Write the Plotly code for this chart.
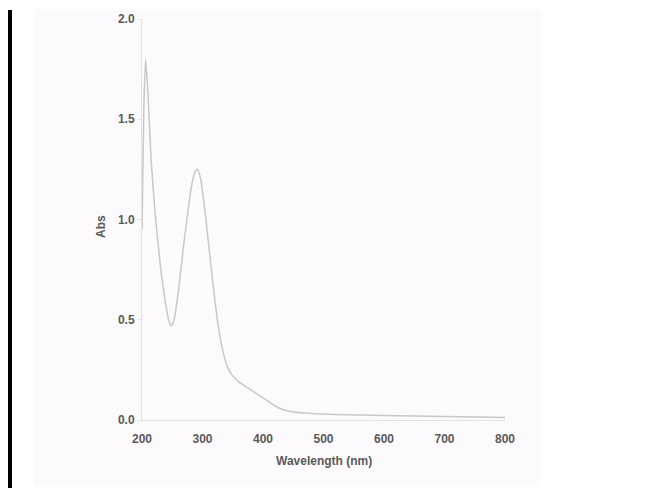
import plotly.graph_objects as go

wavelength = [200, 203, 206, 210, 215, 222, 230, 238, 244, 248, 253, 260, 268, 275, 282, 288, 292,
              297, 303, 310, 318, 326, 334, 342, 350, 360, 375, 390, 405, 420, 435, 450, 480, 520,
              560, 600, 650, 700, 750, 800]
absorbance = [0.95, 1.55, 1.80, 1.62, 1.30, 1.02, 0.78, 0.60, 0.50, 0.47, 0.50, 0.64, 0.85, 1.02,
              1.17, 1.24, 1.25, 1.20, 1.07, 0.88, 0.66, 0.47, 0.34, 0.26, 0.22, 0.19, 0.16, 0.13,
              0.10, 0.07, 0.05, 0.04, 0.033, 0.028, 0.025, 0.022, 0.020, 0.018, 0.015, 0.012]
x_ticks = [200, 300, 400, 500, 600, 700, 800]
y_ticks = [0.0, 0.5, 1.0, 1.5, 2.0]
y_tick_labels = ["0.0", "0.5", "1.0", "1.5", "2.0"]

FAM = "Liberation Sans, Arial, sans-serif"
tickfont = dict(family=FAM, size=12, color="#5a5a5a", weight="bold")

fig = go.Figure()
fig.add_trace(go.Scatter(x=wavelength, y=absorbance, mode="lines",
                         line=dict(color="#c8c8c8", width=1.5, shape="spline", smoothing=0.6),
                         hoverinfo="skip", showlegend=False))

fig.update_layout(
    width=650, height=488,
    margin=dict(l=142, r=145, t=19, b=68),
    paper_bgcolor="#ffffff", plot_bgcolor="rgba(0,0,0,0)",
    font=dict(family=FAM, size=12, color="#5a5a5a"),
    xaxis=dict(range=[200, 800], tickvals=x_ticks, showgrid=False, zeroline=False,
               showline=True, linecolor="#e2e2e2", linewidth=1,
               ticks="outside", ticklen=8, tickcolor="rgba(0,0,0,0)", tickfont=tickfont),
    yaxis=dict(range=[0, 2], tickvals=y_ticks, ticktext=y_tick_labels, showgrid=False, zeroline=False,
               showline=True, linecolor="#e2e2e2", linewidth=1,
               ticks="outside", ticklen=4, tickcolor="#e6e6e6", tickfont=tickfont),
    shapes=[
        dict(type="rect", xref="paper", yref="paper", x0=(34-142)/363, x1=(541-142)/363,
             y0=(420-485)/401, y1=(420-10)/401, fillcolor="#fcfafd", line=dict(width=0), layer="below"),
        dict(type="rect", xref="paper", yref="paper", x0=(8-142)/363, x1=(12-142)/363,
             y0=(420-488)/401, y1=(420-10)/401, fillcolor="#000000", line=dict(width=0), layer="above"),
    ],
    annotations=[
        dict(text="<b>Abs</b>", xref="paper", yref="paper", x=(101-142)/363, y=(420-227)/401,
             xanchor="center", yanchor="middle", textangle=-90, showarrow=False,
             font=dict(family=FAM, size=12, color="#5a5a5a")),
        dict(text="<b>Wavelength (nm)</b>", xref="paper", yref="paper", x=(324-142)/363, y=(420-461)/401,
             xanchor="center", yanchor="middle", showarrow=False,
             font=dict(family=FAM, size=12, color="#5a5a5a")),
    ],
)

fig.write_html("out.html")
